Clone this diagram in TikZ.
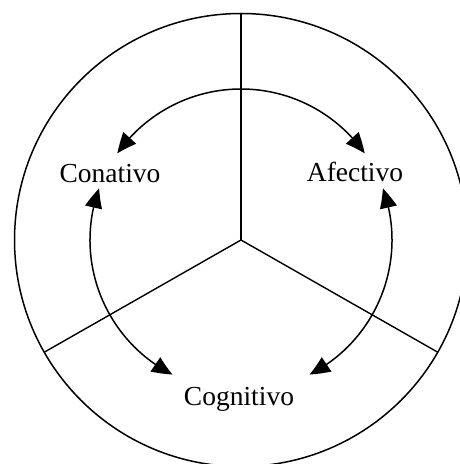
\documentclass[tikz,border=0pt]{standalone}
\usepackage{fontspec}
\setmainfont{Liberation Serif}
\usetikzlibrary{arrows.meta,bending,calc}
\tikzset{
  ring/.style={line width=1.5pt},
  spoke/.style={line width=1.4pt},
  cycle/.style={line width=1.5pt,{Triangle[length=20pt,width=17pt,bend]}-{Triangle[length=20pt,width=17pt,bend]}},
  label/.style={anchor=base,inner sep=0pt,font=\fontsize{27.5}{30}\selectfont}
}
\begin{document}
\begin{tikzpicture}[x=1pt,y=1pt]
\useasboundingbox (0,0) rectangle (459,464);
\coordinate (O) at (241,224);
\draw[ring] (O) circle[radius=226.5];
\coordinate (sTop) at ($(O)+(90:226.5)$);
\coordinate (sLeft) at ($(O)+(209.7:226.5)$);
\coordinate (sRight) at ($(O)+(330.3:226.5)$);
\draw[spoke] (O) -- (sTop);
\draw[spoke] (O) -- (sLeft);
\draw[spoke] (O) -- (sRight);
\coordinate (aTop) at ($(O)+(145:151)$);
\coordinate (aLeft) at ($(O)+(160:151)$);
\coordinate (aRight) at ($(O)+(20:151)$);
\draw[cycle] (aTop) arc[start angle=145, end angle=35, radius=151];
\draw[cycle] (aLeft) arc[start angle=160, end angle=243, radius=151];
\draw[cycle] (aRight) arc[start angle=20, end angle=-63, radius=151];
\node[label] (con) at (110,281) {Conativo};
\node[label] (afe) at (355,282) {Afectivo};
\node[label] (cog) at (239,58) {Cognitivo};
\end{tikzpicture}
\end{document}
